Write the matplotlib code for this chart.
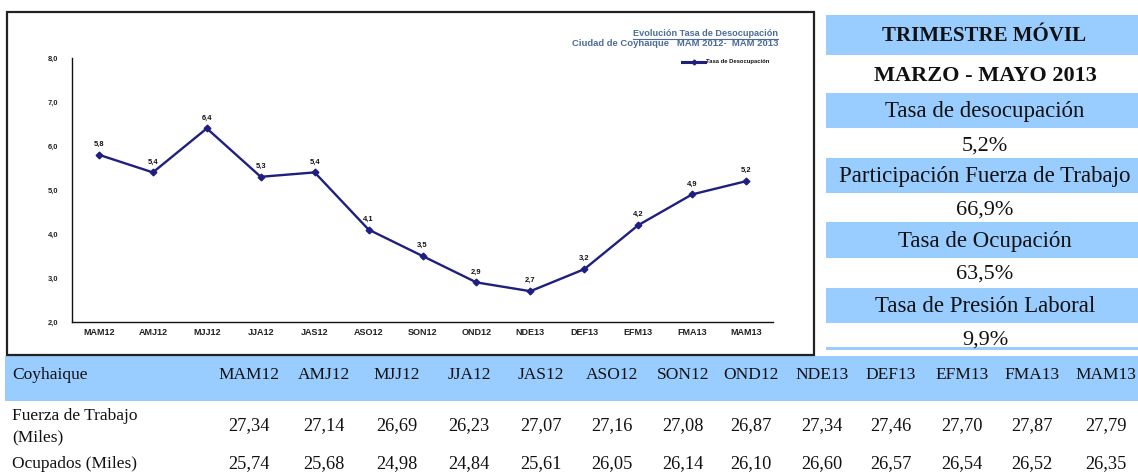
import matplotlib
matplotlib.use("Agg")
import matplotlib.pyplot as plt
from matplotlib.patches import Rectangle
from matplotlib.lines import Line2D

# ---------------- data ----------------
periods = ["MAM12", "AMJ12", "MJJ12", "JJA12", "JAS12", "ASO12", "SON12",
           "OND12", "NDE13", "DEF13", "EFM13", "FMA13", "MAM13"]
tasa_desocupacion = [5.8, 5.4, 6.4, 5.3, 5.4, 4.1, 3.5, 2.9, 2.7, 3.2, 4.2, 4.9, 5.2]
y_ticks = [2.0, 3.0, 4.0, 5.0, 6.0, 7.0, 8.0]

table_headers = ["MAM12", "AMJ12", "MJJ12", "JJA12", "JAS12", "ASO12", "SON12",
                 "OND12", "NDE13", "DEF13", "EFM13", "FMA13", "MAM13"]
fuerza_trabajo = ["27,34", "27,14", "26,69", "26,23", "27,07", "27,16", "27,08",
                  "26,87", "27,34", "27,46", "27,70", "27,87", "27,79"]
ocupados = ["25,74", "25,68", "24,98", "24,84", "25,61", "26,05", "26,14",
            "26,10", "26,60", "26,57", "26,54", "26,52", "26,35"]

panel_title = "TRIMESTRE MÓVIL"
panel_period = "MARZO - MAYO 2013"
panel_labels = ["Tasa de desocupación", "Participación Fuerza de Trabajo",
                "Tasa de Ocupación", "Tasa de Presión Laboral"]
panel_values = ["5,2%", "66,9%", "63,5%", "9,9%"]

# ---------------- layout helpers ----------------
W, H = 1138, 474
fig = plt.figure(figsize=(W / 100, H / 100), dpi=100)
fig.patch.set_facecolor("white")


def fx(x):
    return x / W


def fy(y):
    return 1 - y / H


def rect(x0, y0, x1, y1, fc, ec="none", lw=0, z=0):
    r = Rectangle((fx(x0), fy(y1)), fx(x1) - fx(x0), fy(y0) - fy(y1),
                  transform=fig.transFigure, facecolor=fc, edgecolor=ec,
                  linewidth=lw, zorder=z)
    fig.add_artist(r)


def txt(x, y, s, size, ha="center", weight="normal", family="Liberation Serif",
        color="#111111", **kw):
    fig.text(fx(x), fy(y), s, ha=ha, va="center", fontsize=size,
             fontweight=weight, family=family, color=color, **kw)


BLUE = "#99CCFF"
NAVY = "#1f1f80"
TITLE_C = "#4d6c9a"

# ---------------- chart box ----------------
rect(7, 12, 814, 355, "white", ec="#222222", lw=1.6, z=1)

ax = fig.add_axes([fx(72), fy(322), fx(773) - fx(72), fy(58) - fy(322)])
ax.set_zorder(3)
ax.patch.set_alpha(0)
x = list(range(len(periods)))
ax.plot(x, tasa_desocupacion, color=NAVY, lw=1.7, marker="D", markersize=3.4,
        markerfacecolor=NAVY, markeredgecolor=NAVY)
for xi, v in zip(x, tasa_desocupacion):
    ax.annotate(f"{v:.1f}".replace(".", ","), (xi, v), xytext=(0, 7.5),
                textcoords="offset points", ha="center", va="center",
                fontsize=5.4, fontweight="bold", family="Liberation Sans",
                color="#111111")
ax.set_xlim(-0.5, len(periods) - 0.5)
ax.set_ylim(y_ticks[0], y_ticks[-1])
ax.set_yticks(y_ticks)
ax.set_yticklabels([f"{t:.1f}".replace(".", ",") for t in y_ticks],
                   fontsize=5.4, fontweight="bold", family="Liberation Sans",
                   color="#222222")
ax.set_xticks(x)
ax.set_xticklabels(periods, fontsize=6.5, fontweight="bold",
                   family="Liberation Sans", color="#222222")
ax.tick_params(axis="y", length=0, pad=10)
ax.tick_params(axis="x", length=0, pad=4)
for s in ["top", "right"]:
    ax.spines[s].set_visible(False)
for s in ["left", "bottom"]:
    ax.spines[s].set_color("#111111")
    ax.spines[s].set_linewidth(1.0)

# chart titles
fig.text(fx(778), fy(33), "Evolución Tasa de Desocupación", ha="right",
         va="center", fontsize=6.6, fontweight="bold", family="Liberation Sans",
         color=TITLE_C, zorder=4)
fig.add_artist(Line2D([fx(633), fx(778)], [fy(38.5), fy(38.5)],
                      transform=fig.transFigure, color=TITLE_C, lw=0.8, zorder=4))
fig.text(fx(778), fy(44), "Ciudad de Coyhaique   MAM 2012-  MAM 2013", ha="right",
         va="center", fontsize=6.8, fontweight="bold", family="Liberation Sans",
         color=TITLE_C, zorder=4)
# legend
fig.add_artist(Line2D([fx(682), fx(705)], [fy(62), fy(62)],
                      transform=fig.transFigure, color=NAVY, lw=2.2, zorder=4))
fig.add_artist(Line2D([fx(693.5)], [fy(62)], transform=fig.transFigure,
                      color=NAVY, marker="D", markersize=2.5, zorder=4))
fig.text(fx(706), fy(62), "Tasa de Desocupación", ha="left", va="center",
         fontsize=4.2, fontweight="bold", family="Liberation Sans",
         color="#111111", zorder=4)

# ---------------- right panel ----------------
panel_x0, panel_x1, panel_cx = 826, 1138, 985
rect(panel_x0, 15, panel_x1, 55, BLUE)
txt(panel_cx - 1, 36, panel_title, 15, weight="bold")
txt(panel_cx, 76, panel_period, 16, weight="bold")
label_rows = [(93, 128), (158, 193), (222, 258), (288, 323)]
value_y = [146, 210, 274, 340]
for (y0, y1), lab, vy, val in zip(label_rows, panel_labels, value_y, panel_values):
    rect(panel_x0, y0, panel_x1, y1, BLUE)
    txt(panel_cx, (y0 + y1) / 2 + 1, lab, 16.5)
    txt(panel_cx, vy, val, 16)
rect(panel_x0, 347, panel_x1, 350, BLUE)

# ---------------- bottom table ----------------
rect(5, 356, W, 401, BLUE)
col_x = [249, 324, 397, 469, 541, 612, 683, 751, 822, 891, 962, 1032, 1106]
txt(12, 375, "Coyhaique", 12.5, ha="left")
txt(12, 416, "Fuerza de Trabajo", 12.5, ha="left")
txt(12, 437, "(Miles)", 12.5, ha="left")
txt(12, 464, "Ocupados (Miles)", 12.5, ha="left")
for cx, h, f, o in zip(col_x, table_headers, fuerza_trabajo, ocupados):
    txt(cx, 375, h, 12.5)
    txt(cx, 426, f, 13.2)
    txt(cx, 464, o, 13.2)

fig.savefig("out.png", dpi=100)
